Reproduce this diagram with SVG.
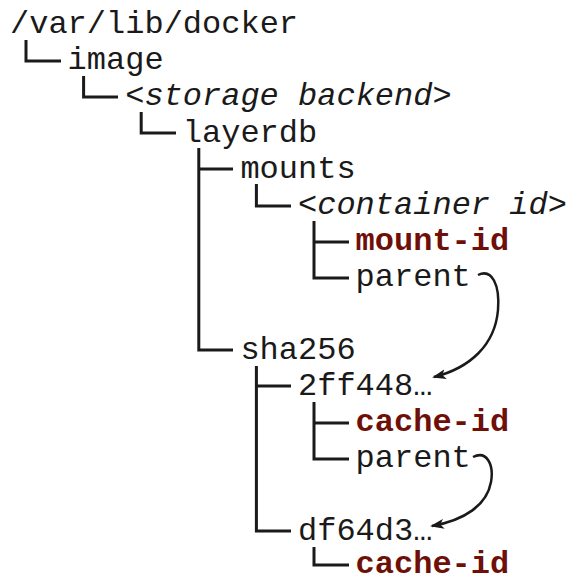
<svg xmlns="http://www.w3.org/2000/svg" width="567" height="578" viewBox="0 0 567 578">
<defs>
<style>
text{font-family:"Liberation Mono","DejaVu Sans Mono",monospace;font-size:32px;fill:#1a1a1a}
.it{font-style:italic}
.key{font-weight:bold;fill:#6e1008}
.tree{fill:none;stroke:#1a1a1a;stroke-width:3;stroke-linecap:butt;stroke-linejoin:miter}
.arr{fill:none;stroke:#1a1a1a;stroke-width:2.5}
</style>
<marker id="ah" viewBox="0 0 14 10" refX="12" refY="5" markerWidth="14" markerHeight="10" markerUnits="userSpaceOnUse" orient="auto">
<path d="M0,0 L14,5 L0,10 L3.5,5 Z" fill="#1a1a1a"/>
</marker>
</defs>
<rect width="567" height="578" fill="#ffffff"/>
<g id="connectors">
<path class="tree" d="M26,40 V61 H61"/>
<path class="tree" d="M83.6,76 V97 H118"/>
<path class="tree" d="M141.2,112 V133 H176"/>
<path class="tree" d="M198.8,148 V350 H233 M198.8,169 H233"/>
<path class="tree" d="M256.4,184 V206 H291"/>
<path class="tree" d="M314,221 V278 H349 M314,242 H349"/>
<path class="tree" d="M256.4,366 V531 H291 M256.4,386 H291"/>
<path class="tree" d="M314,402 V459 H349 M314,423 H349"/>
<path class="tree" d="M314,547 V565 H349"/>
<path class="arr" marker-end="url(#ah)" d="M478,275 C492,268 500,285 498,310 C495,345 470,368 434,377"/>
<path class="arr" marker-end="url(#ah)" d="M473,457 C487,450 494,465 491,482 C487,505 465,520 432,526"/>
</g>
<g id="n-root"><text x="10" y="33">/var/lib/docker</text></g>
<g id="n-image"><text x="67.6" y="69.2">image</text></g>
<g id="n-storage"><text x="125.2" y="105.4">&lt;<tspan class="it">storage backend</tspan>&gt;</text></g>
<g id="n-layerdb"><text x="182.8" y="141.6">layerdb</text></g>
<g id="n-mounts"><text x="240.4" y="177.8">mounts</text></g>
<g id="n-container"><text x="298" y="214">&lt;<tspan class="it">container id</tspan>&gt;</text></g>
<g id="n-mountid"><text class="key" x="355.6" y="250.2">mount-id</text></g>
<g id="n-parent1"><text x="355.6" y="286.4">parent</text></g>
<g id="n-sha256"><text x="240.4" y="358.8">sha256</text></g>
<g id="n-2ff448"><text x="298" y="395">2ff448…</text></g>
<g id="n-cacheid1"><text class="key" x="355.6" y="431.2">cache-id</text></g>
<g id="n-parent2"><text x="355.6" y="467.4">parent</text></g>
<g id="n-df64d3"><text x="298" y="539.8">df64d3…</text></g>
<g id="n-cacheid2"><text class="key" x="355.6" y="573">cache-id</text></g>
</svg>
